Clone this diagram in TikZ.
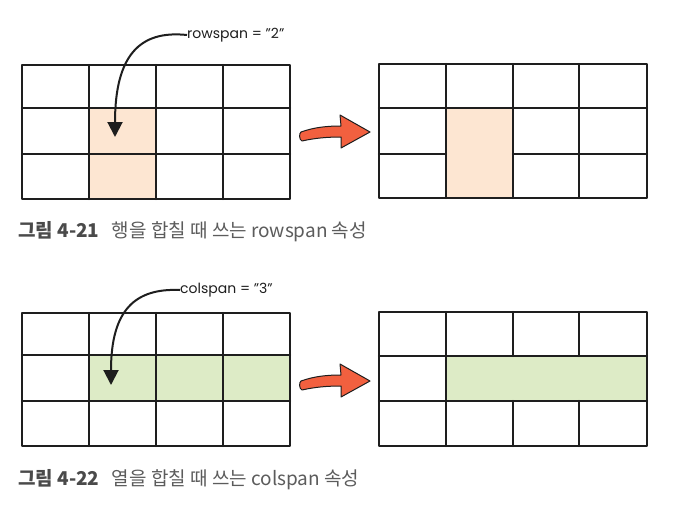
\documentclass[tikz,border=0pt]{standalone}
\usepackage{fontspec}
\setmainfont{Poppins}
\newfontfamily\cjk{Noto Sans CJK KR}
\usetikzlibrary{arrows.meta}
\definecolor{gridc}{HTML}{1E1E1E}
\definecolor{peach}{HTML}{FDE6D2}
\definecolor{leaf}{HTML}{DDEBC6}
\definecolor{redarrow}{HTML}{F2603F}
\definecolor{capbold}{HTML}{4A4A4A}
\definecolor{captext}{HTML}{5C5C5C}
\tikzset{
  gridline/.style={draw=gridc, line width=2.4pt, line cap=round, line join=round},
  callout/.style={draw=gridc, line width=2pt, -{Triangle[width=15pt,length=15pt]}},
  codelabel/.style={font=\fontsize{14}{16}\selectfont, text=gridc, inner sep=0pt, anchor=west},
  caption/.style={font=\cjk\fontsize{19}{22}\selectfont, text=captext, inner sep=0pt, anchor=west},
  bigarrow/.style={fill=redarrow, draw=gridc, line width=1pt, line join=round}
}
\begin{document}
\begin{tikzpicture}[x=1pt,y=-1pt]
\useasboundingbox[fill=white] (0,0) rectangle (685,520);

% ---------- Figure 4-21 ----------
% left table
\fill[peach] (89,108) rectangle (156,199);
\draw[gridline] (22,65) rectangle (290,199);
\draw[gridline] (89,65) -- (89,199);
\draw[gridline] (156,65) -- (156,199);
\draw[gridline] (223,65) -- (223,199);
\draw[gridline] (22,108) -- (290,108);
\draw[gridline] (22,154) -- (290,154);

\node[codelabel] (lab1) at (187,35) {rowspan = "2"};
\coordinate (tip1) at (115,137);
\draw[callout] (lab1.west) .. controls (140,30) and (115,55) .. (tip1);

% red arrow
\draw[bigarrow] (301,132) .. controls (315,127) and (328,126) .. (341,126)
  -- (340,115) -- (370,132) -- (341,148) -- (341,137)
  .. controls (328,137) and (315,138) .. (302,141)
  .. controls (299,140) and (299,133) .. cycle;

% right table
\fill[peach] (446,108) rectangle (513,198);
\draw[gridline] (379,64) rectangle (647,198);
\draw[gridline] (446,64) -- (446,198);
\draw[gridline] (513,64) -- (513,198);
\draw[gridline] (579,64) -- (579,198);
\draw[gridline] (379,108) -- (647,108);
\draw[gridline] (379,154) -- (446,154);
\draw[gridline] (513,154) -- (647,154);

\node[caption] (cap1) at (18,232) {{\bfseries\color{capbold}그림 4-21}\hspace{0.65em}행을 합칠 때 쓰는 rowspan 속성};

% ---------- Figure 4-22 ----------
\fill[leaf] (89,355) rectangle (290,401);
\draw[gridline] (22,313) rectangle (290,446);
\draw[gridline] (89,313) -- (89,446);
\draw[gridline] (156,313) -- (156,446);
\draw[gridline] (223,313) -- (223,446);
\draw[gridline] (22,355) -- (290,355);
\draw[gridline] (22,401) -- (290,401);

\node[codelabel] (lab2) at (180,290) {colspan = "3"};
\coordinate (tip2) at (111,385);
\draw[callout] (lab2.west) .. controls (135,288) and (111,310) .. (tip2);

\draw[bigarrow] (301,381) .. controls (315,376) and (328,375) .. (341,375)
  -- (340,364) -- (370,381) -- (341,397) -- (341,386)
  .. controls (328,386) and (315,387) .. (302,390)
  .. controls (299,389) and (299,382) .. cycle;

\fill[leaf] (446,356) rectangle (647,401);
\draw[gridline] (379,312) rectangle (647,446);
\draw[gridline] (446,312) -- (446,446);
\draw[gridline] (513,312) -- (513,356);
\draw[gridline] (513,401) -- (513,446);
\draw[gridline] (579,312) -- (579,356);
\draw[gridline] (579,401) -- (579,446);
\draw[gridline] (379,356) -- (647,356);
\draw[gridline] (379,401) -- (647,401);

\node[caption] (cap2) at (18,480) {{\bfseries\color{capbold}그림 4-22}\hspace{0.65em}열을 합칠 때 쓰는 colspan 속성};
\end{tikzpicture}
\end{document}
